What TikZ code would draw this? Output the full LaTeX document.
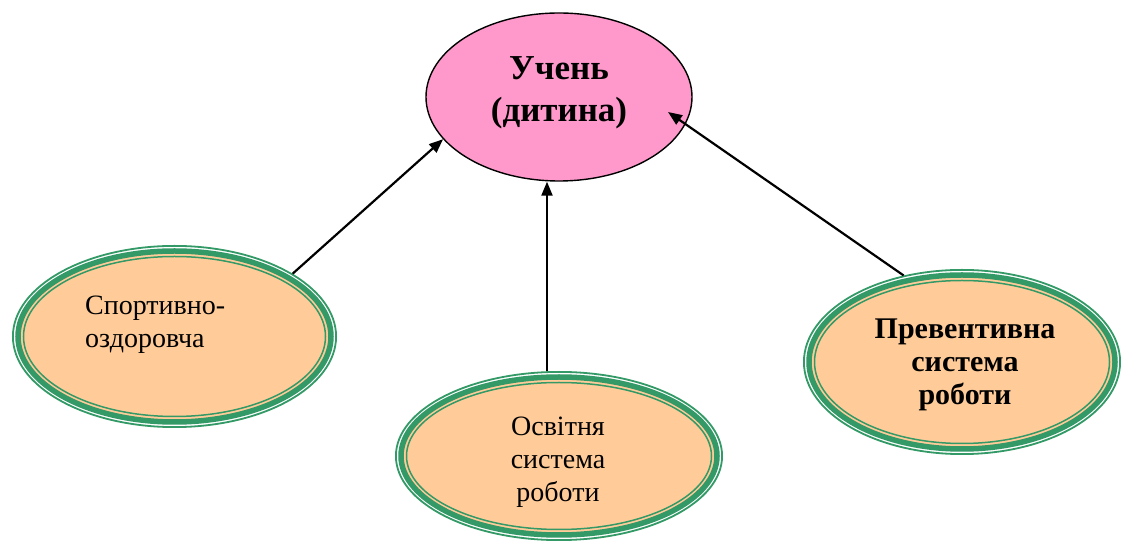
\documentclass[tikz,border=0pt]{standalone}
\usepackage{fontspec}
\setmainfont{Liberation Serif}
\usetikzlibrary{arrows.meta,shapes.geometric}
\definecolor{rosefill}{HTML}{FF99CC}
\definecolor{peach}{HTML}{FFCC99}
\definecolor{seagreen}{HTML}{339966}
\tikzset{
  ellA/.style={ellipse, draw=seagreen, line width=1.8pt, fill=white, inner sep=0pt},
  ringthick/.style={draw=seagreen, line width=5.5pt, fill=peach},
  ringthin/.style={draw=seagreen, line width=1.5pt},
  hub/.style={ellipse, draw=black, line width=1.4pt, fill=rosefill, inner sep=0pt},
  arr/.style={line width=2.2pt, -{Triangle[length=14pt,width=11pt]}},
  lbl/.style={font=\fontsize{28}{33}\selectfont, inner sep=0pt, align=center},
  lblb/.style={font=\bfseries\fontsize{30}{33}\selectfont, inner sep=0pt, align=center},
  ttlfont/.style={font=\bfseries\fontsize{35}{42}\selectfont, inner sep=0pt, align=center},
}
\newcommand\ringnode[5]{%
  \node[ellA, minimum width={2*(#4pt-0.9pt)}, minimum height={2*(#5pt-0.9pt)}] (#1) at (#2,#3) {};
  \draw[ringthick] (#1.center) ellipse [x radius={#4pt-6pt}, y radius={#5pt-6pt}];
  \draw[ringthin] (#1.center) ellipse [x radius={#4pt-11.5pt}, y radius={#5pt-11.5pt}];
}
\begin{document}
\begin{tikzpicture}[x=1pt,y=1pt]
\useasboundingbox (0,0) rectangle (1121,543);
\node[hub, minimum width=266pt, minimum height=168pt] (top) at (559,446) {};
\ringnode{sport}{174.5}{206.5}{162.5}{91.5}
\ringnode{edu}{559}{87}{164}{85}
\ringnode{prev}{962}{181}{159}{93}

\node[ttlfont, anchor=base] (ttl) at (559,421) {Учень\\(дитина)};
\node[lbl, align=left, anchor=base west] (stxt) at (85,195) {Спортивно-\\оздоровча};
\node[lbl, anchor=base] (etxt) at (558,41) {Освітня\\система\\роботи};
\node[lblb, anchor=base] (ptxt) at (965,138) {Превентивна\\система\\роботи};

\draw[arr] (sport.28) -- (top.200);
\draw[arr] ([xshift=-12pt]edu.north) -- ([xshift=-12pt]top.south);
\coordinate (rtip) at ([shift={(109pt,-15pt)}]top.center);
\draw[arr] (prev.124) -- (rtip);
\end{tikzpicture}
\end{document}
